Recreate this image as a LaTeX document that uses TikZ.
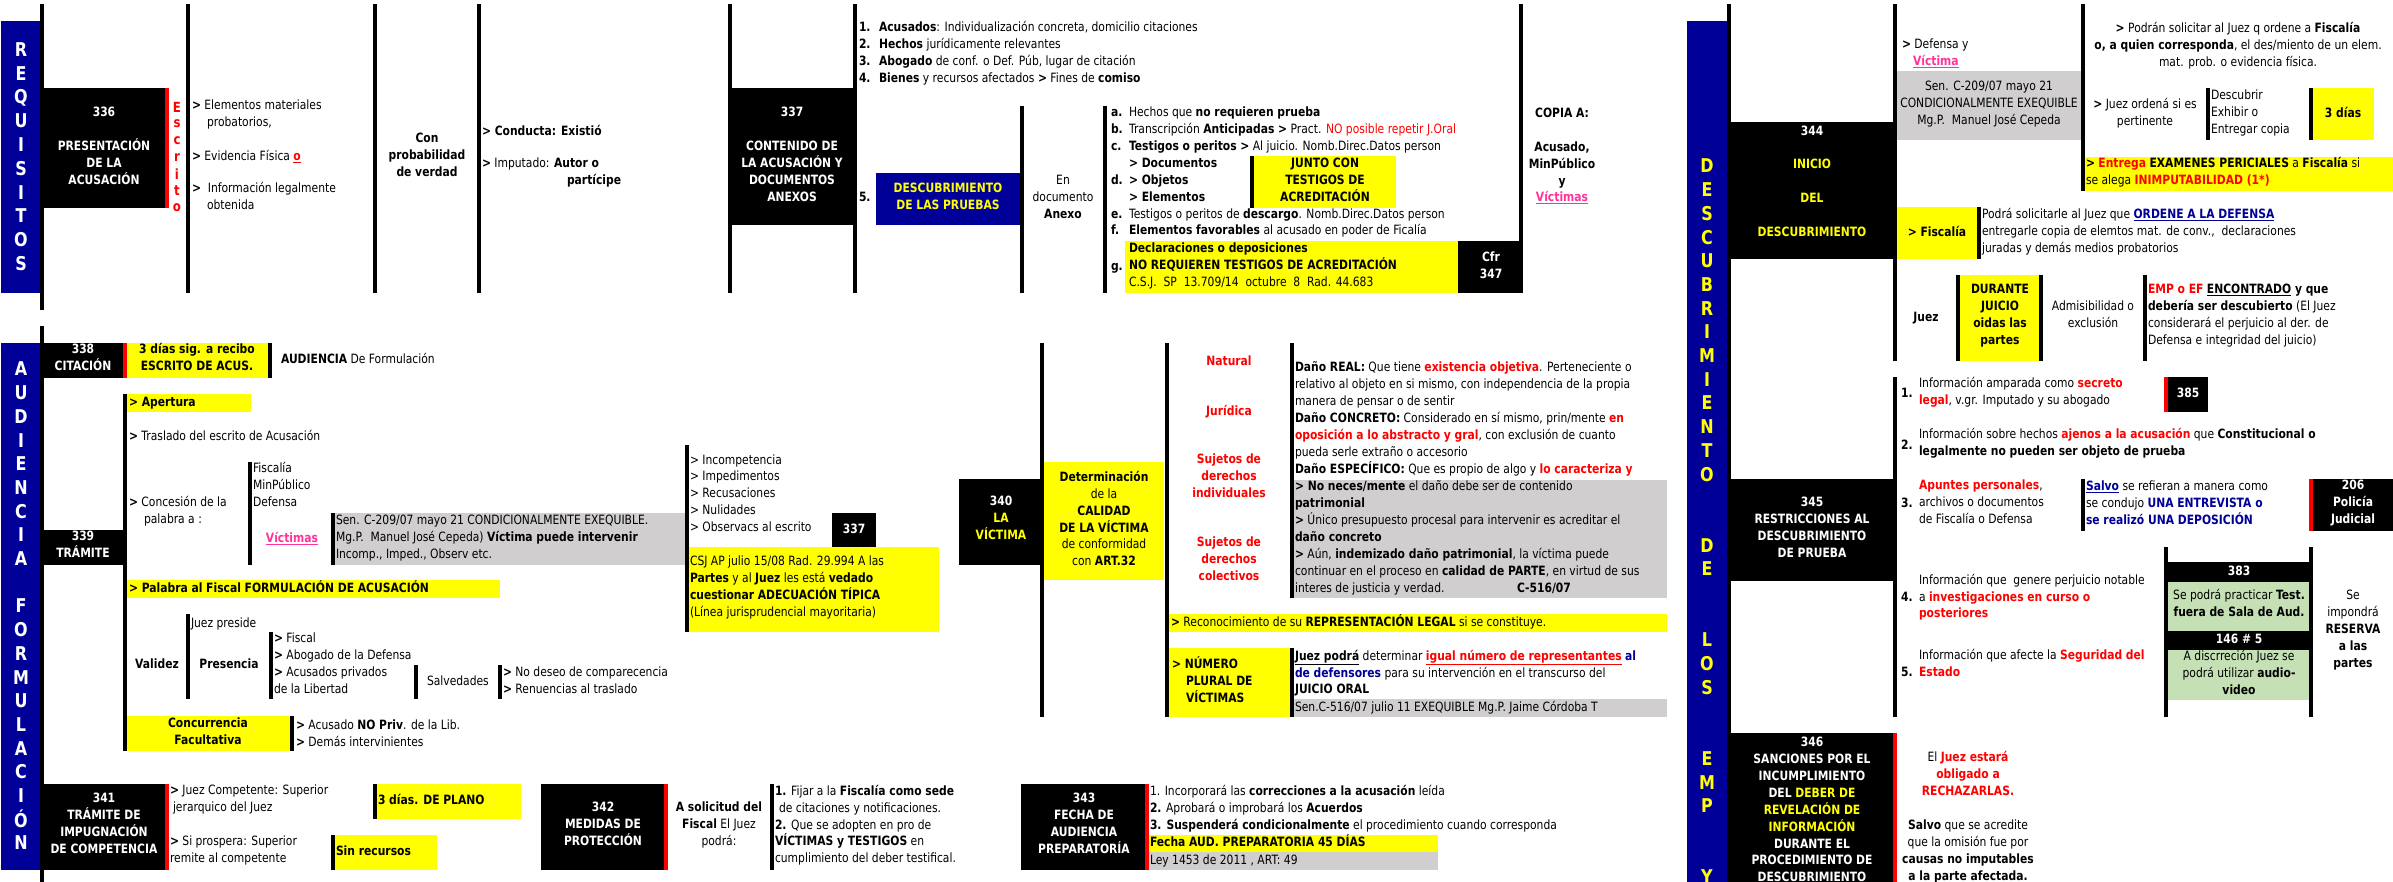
\documentclass[tikz,border=0pt]{standalone}
\usepackage{fontspec}
\setmainfont{DejaVu Sans}[FakeStretch=0.84]
\usepackage{tikz}
\definecolor{azul}{HTML}{000099}
\definecolor{amar}{HTML}{FFFF00}
\definecolor{gris}{HTML}{D0CECE}
\definecolor{verde}{HTML}{C5E0B4}
\definecolor{rojo}{HTML}{FF0000}
\definecolor{rosa}{HTML}{FF3399}
\newcommand{\tam}{\fontsize{12.8}{16.9}\selectfont}
\newcommand{\sig}{\textbf{>}}
\newcommand{\rojob}[1]{\textcolor{rojo}{\textbf{#1}}}
\newcommand{\rojou}[1]{\textcolor{rojo}{\textbf{\underline{#1}}}}
\newcommand{\azb}[1]{\textcolor{azul}{\textbf{#1}}}
\newcommand{\azu}[1]{\textcolor{azul}{\textbf{\underline{#1}}}}
\newcommand{\vict}[1]{\textcolor{rosa}{\textbf{\underline{#1}}}}
\newcommand{\nm}[2][20pt]{\makebox[#1][l]{\textbf{#2}}}

\begin{document}
\begin{tikzpicture}[x=1pt,y=-1pt,
   every node/.style={inner sep=0pt,outer sep=0pt},
   tx/.style={anchor=west,align=left,font=\tam,execute at begin node=\strut,execute at end node=\strut},
   txb/.style={tx,font=\tam\bfseries},
   ct/.style={tx,anchor=center,align=center},
   ctb/.style={ct,font=\tam\bfseries},
   wb/.style={ctb,text=white},
   rj/.style={ctb,text=rojo},
   letra/.style={font=\fontsize{19}{19}\selectfont\bfseries,text=white},
   letray/.style={letra,text=amar},
   esc/.style={font=\fontsize{14}{14}\selectfont\bfseries,text=rojo}]
   \fill[white] (0,0) rectangle (2393,882);
   \useasboundingbox (0,0) rectangle (2393,882);

   % REQUISITOS
   \fill[azul] (1,21) rectangle (40,293);
   \fill (40,4) rectangle (44,310);
   \fill (44,88) rectangle (165,208);
   \fill[rojo] (165,88) rectangle (169,208);
   \fill (186,4) rectangle (190,293);
   \fill (373,4) rectangle (377,293);
   \fill (477,4) rectangle (481,293);
   \fill (728,4) rectangle (732,293);
   \fill (732,88) rectangle (853,225);
   \fill (853,4) rectangle (857,293);
   \fill[azul] (876,173) rectangle (1020,225);
   \fill (1020,106) rectangle (1024,293);
   \fill (1103,106) rectangle (1107,293);
   \fill (1250,156) rectangle (1254,208);
   \fill[amar] (1254,156) rectangle (1396,208);
   \fill[amar] (1125,241) rectangle (1458,293);
   \fill (1458,241) rectangle (1523,293);
   \fill (1519,4) rectangle (1523,241);

   \foreach \ch [count=\i from 0] in {R,E,Q,U,I,S,I,T,O,S}
      \node[letra] (req\i) at (21,50+23.7*\i) {\ch};
   \foreach \ch [count=\i from 0] in {E,s,c,r,i,t,o}
      \node[esc] (esc\i) at (177,107+16.7*\i) {\ch};
   \node[wb] (t336) at (104,148) {336\\[16.9pt]PRESENTACIÓN\\DE LA\\ACUSACIÓN};
   \node[tx] (emp) at (192,115.5) {\sig{} Elementos materiales\\\hspace*{15pt}probatorios,};
   \node[tx] (evf) at (192,157) {\sig{} Evidencia Física \rojou{o}};
   \node[tx] (info) at (192,198.5) {\sig{}\ \ Información legalmente\\\hspace*{15pt}obtenida};
   \node[ctb] (conp) at (427,157) {Con\\probabilidad\\de verdad};
   \node[txb] (cond) at (482,132) {> Conducta: Existió};
   \node[tx] (imput) at (482,173.5) {\sig{} Imputado: \textbf{Autor o}\\\hspace*{85pt}\textbf{partícipe}};
   \node[wb] (t337) at (792,157) {337\\[16.9pt]CONTENIDO DE\\LA ACUSACIÓN Y\\DOCUMENTOS\\ANEXOS};
   \node[tx] (cont) at (859,54.5) {\nm{1.}\textbf{Acusados}: Individualización concreta, domicilio citaciones\\
      \nm{2.}\textbf{Hechos} jurídicamente relevantes\\
      \nm{3.}\textbf{Abogado} de conf. o Def. Púb, lugar de citación\\
      \nm{4.}\textbf{Bienes} y recursos afectados \sig{} Fines de \textbf{comiso}};
   \node[txb] (n5) at (859,198) {5.};
   \node[ctb,text=amar] (desc) at (948,199) {DESCUBRIMIENTO\\DE LAS PRUEBAS};
   \node[ct] (anexo) at (1063,199) {En\\documento\\\textbf{Anexo}};
   \node[tx] (lista) at (1111,173.5) {\nm[18pt]{a.}Hechos que \textbf{no requieren prueba}\\
      \nm[18pt]{b.}Transcripción \textbf{Anticipadas >} Pract. \textcolor{rojo}{NO posible repetir J.Oral}\\
      \nm[18pt]{c.}\textbf{Testigos o peritos >} Al juicio. Nomb.Direc.Datos person\\
      \nm[18pt]{}\textbf{> Documentos}\\
      \nm[18pt]{d.}\textbf{> Objetos}\\
      \nm[18pt]{}\textbf{> Elementos}\\
      \nm[18pt]{e.}Testigos o peritos de \textbf{descargo}. Nomb.Direc.Datos person\\
      \nm[18pt]{f.}\textbf{Elementos favorables} al acusado en poder de Ficalía};
   \node[ctb] (junto) at (1325,182) {JUNTO CON\\TESTIGOS DE\\ACREDITACIÓN};
   \node[txb] (ng) at (1111,267) {g.};
   \node[tx] (decl) at (1129,267) {\textbf{Declaraciones o deposiciones}\\\textbf{NO REQUIEREN TESTIGOS DE ACREDITACIÓN}\\C.S.J.\ \ SP\ \ 13.709/14\ \ octubre\ \ 8\ \ Rad. 44.683};
   \node[wb] (cfr) at (1491,267.5) {Cfr\\347};
   \node[ctb] (copia) at (1562,157.5) {COPIA A:\\[16.9pt]Acusado,\\MinPúblico\\y\\\vict{Víctimas}};

   % AUDIENCIA DE FORMULACION
   \fill[azul] (1,343) rectangle (40,870);
   \fill (40,326) rectangle (44,882);
   \fill (44,343) rectangle (123,378);
   \fill[rojo] (123,343) rectangle (127,378);
   \fill[amar] (127,343) rectangle (268,378);
   \fill (268,343) rectangle (272,378);
   \fill (123,394) rectangle (127,751);
   \fill[amar] (127,394) rectangle (251,412);
   \fill (44,530) rectangle (123,565);
   \fill (248,462) rectangle (252,565);
   \fill (331,513) rectangle (335,565);
   \fill[gris] (335,513) rectangle (685,565);
   \fill (685,445) rectangle (689,632);
   \fill (832,513) rectangle (876,547);
   \fill[amar] (689,547) rectangle (939,632);
   \fill[amar] (127,580) rectangle (500,598);
   \fill (186,614) rectangle (190,699);
   \fill (269,632) rectangle (273,699);
   \fill (414,665) rectangle (418,699);
   \fill (498,665) rectangle (502,699);
   \fill[amar] (127,716) rectangle (290,751);
   \fill (290,716) rectangle (294,751);
   \fill (44,784) rectangle (165,870);
   \fill[rojo] (165,784) rectangle (169,870);
   \fill (373,784) rectangle (377,819);
   \fill[amar] (377,784) rectangle (521,819);
   \fill (331,835) rectangle (335,870);
   \fill[amar] (335,835) rectangle (437,870);
   \fill (541,784) rectangle (664,870);
   \fill[rojo] (664,784) rectangle (668,870);
   \fill (770,784) rectangle (774,870);
   \fill (1021,784) rectangle (1145,870);
   \fill[rojo] (1145,784) rectangle (1149,870);
   \fill[amar] (1149,835) rectangle (1438,852);
   \fill[gris] (1149,852) rectangle (1438,870);

   \foreach \i/\ch in {0/A,1/U,2/D,3/I,4/E,5/N,6/C,7/I,8/A,10/F,11/O,12/R,13/M,14/U,15/L,16/A,17/C,18/I,19/Ó,20/N}
      \node[letra] (aud\i) at (21,369+23.7*\i) {\ch};
   \node[wb] (t338) at (83,359.5) {338\\CITACIÓN};
   \node[ctb] (tresd) at (197,359.5) {3 días sig. a recibo\\ESCRITO DE ACUS.};
   \node[tx] (audf) at (281,360) {\textbf{AUDIENCIA} De Formulación};
   \node[txb] (aper) at (129,403) {> Apertura};
   \node[tx] (tras) at (129,437) {\sig{} Traslado del escrito de Acusación};
   \node[wb] (t339) at (83,547) {339\\TRÁMITE};
   \node[tx] (conc) at (129,512.5) {\sig{} Concesión de la\\\hspace*{15pt}palabra a :};
   \node[tx] (fmd) at (253,487) {Fiscalía\\MinPúblico\\Defensa};
   \node[ct] (vic1) at (292,539) {\vict{Víctimas}};
   \node[tx] (sen1) at (336,539) {Sen. C-209/07 mayo 21 CONDICIONALMENTE EXEQUIBLE.\\Mg.P.\ \ Manuel José Cepeda) \textbf{Víctima puede intervenir}\\Incomp., Imped., Observ etc.};
   \node[tx] (incomp) at (690,495.5) {> Incompetencia\\> Impedimentos\\> Recusaciones\\> Nulidades\\> Observacs al escrito};
   \node[wb] (c337) at (854,530) {337};
   \node[tx] (csj) at (690,589) {CSJ AP julio 15/08 Rad. 29.994 A las\\\textbf{Partes} y al \textbf{Juez} les está \textbf{vedado}\\\textbf{cuestionar ADECUACIÓN TÍPICA}\\(Línea jurisprudencial mayoritaria)};
   \node[txb] (palf) at (129,589) {> Palabra al Fiscal FORMULACIÓN DE ACUSACIÓN};
   \node[ctb] (valid) at (157,665) {Validez};
   \node[tx] (juez) at (191,624) {Juez preside};
   \node[ctb] (pres) at (229,665) {Presencia};
   \node[tx] (fisc) at (274,666) {\sig{} Fiscal\\\sig{} Abogado de la Defensa\\\sig{} Acusados privados\\de la Libertad};
   \node[tx] (salv) at (427,682) {Salvedades};
   \node[tx] (nodes) at (503,682.5) {\sig{} No deseo de comparecencia\\\sig{} Renuencias al traslado};
   \node[ctb] (concu) at (208,734) {Concurrencia\\Facultativa};
   \node[tx] (acus) at (296,735.5) {\sig{} Acusado \textbf{NO Priv}. de la Lib.\\\sig{} Demás intervinientes};
   \node[wb] (t341) at (104,826) {341\\TRÁMITE DE\\IMPUGNACIÓN\\DE COMPETENCIA};
   \node[tx] (juezc) at (170,800.5) {\sig{} Juez Competente: Superior\\\hspace*{3pt}jerarquico del Juez};
   \node[tx] (sipro) at (170,851.5) {\sig{} Si prospera: Superior\\remite al competente};
   \node[txb] (plano) at (378,801) {3 días. DE PLANO};
   \node[txb] (sinr) at (336,852) {Sin recursos};
   \node[wb] (t342) at (603,826) {342\\MEDIDAS DE\\PROTECCIÓN};
   \node[ct] (asol) at (719,826) {\textbf{A solicitud del}\\\textbf{Fiscal} El Juez\\podrá:};
   \node[tx] (fijar) at (775,826.5) {\textbf{1.} Fijar a la \textbf{Fiscalía como sede}\\\hspace*{4pt}de citaciones y notificaciones.\\\textbf{2.} Que se adopten en pro de\\\textbf{VÍCTIMAS y TESTIGOS} en\\cumplimiento del deber testifical.};
   \node[wb] (t343) at (1084,826) {343\\FECHA DE\\AUDIENCIA\\PREPARATORÍA};
   \node[tx] (incorp) at (1150,810) {1. Incorporará las \textbf{correcciones a la acusación} leída\\\textbf{2.} Aprobará o improbará los \textbf{Acuerdos}\\\textbf{3. Suspenderá condicionalmente} el procedimiento cuando corresponda};
   \node[txb] (fecha) at (1150,843.5) {Fecha AUD. PREPARATORIA 45 DÍAS};
   \node[tx] (ley) at (1150,861) {Ley 1453 de 2011 , ART: 49};

   % LA VICTIMA
   \fill (959,479) rectangle (1040,565);
   \fill (1040,343) rectangle (1044,717);
   \fill[amar] (1044,462) rectangle (1164,580);
   \fill (1165,343) rectangle (1169,717);
   \fill (1290,343) rectangle (1294,598);
   \fill[gris] (1294,480) rectangle (1667,598);
   \fill[amar] (1169,614) rectangle (1667,632);
   \fill[amar] (1169,648) rectangle (1290,717);
   \fill (1290,648) rectangle (1294,717);
   \fill[gris] (1294,699) rectangle (1667,717);

   \node[wb] (t340) at (1001,520.5) {340\\\textcolor{amar}{LA}\\\textcolor{amar}{VÍCTIMA}};
   \node[ct] (deter) at (1104,521) {\textbf{Determinación}\\de la\\\textbf{CALIDAD}\\\textbf{DE LA VÍCTIMA}\\de conformidad\\con \textbf{ART.32}};
   \node[rj] (natu) at (1229,362) {Natural};
   \node[rj] (juri) at (1229,412) {Jurídica};
   \node[rj] (sind) at (1229,478) {Sujetos de\\derechos\\individuales};
   \node[rj] (scol) at (1229,561.5) {Sujetos de\\derechos\\colectivos};
   \node[tx] (dano) at (1295,420) {\textbf{Daño REAL:} Que tiene \rojob{existencia objetiva}. Perteneciente o\\
      relativo al objeto en si mismo, con independencia de la propia\\
      manera de pensar o de sentir\\
      \textbf{Daño CONCRETO:} Considerado en sí mismo, prin/mente \rojob{en}\\
      \rojob{oposición a lo abstracto y gral}, con exclusión de cuanto\\
      pueda serle extraño o accesorio\\
      \textbf{Daño ESPECÍFICO:} Que es propio de algo y \rojob{lo caracteriza y}};
   \node[tx] (nonec) at (1295,539) {\textbf{> No neces/mente} el daño debe ser de contenido\\
      \textbf{patrimonial}\\
      \sig{} Único presupuesto procesal para intervenir es acreditar el\\
      \textbf{daño concreto}\\
      \sig{} Aún, \textbf{indemizado daño patrimonial}, la víctima puede\\
      continuar en el proceso en \textbf{calidad de PARTE}, en virtud de sus\\
      interes de justicia y verdad.};
   \node[txb] (c516) at (1517,589) {C-516/07};
   \node[tx] (recon) at (1171,623) {\sig{} Reconocimiento de su \textbf{REPRESENTACIÓN LEGAL} si se constituye.};
   \node[txb] (plural) at (1172,682) {> NÚMERO\\\hspace*{14pt}PLURAL DE\\\hspace*{14pt}VÍCTIMAS};
   \node[tx] (juezp) at (1295,674.5) {\textbf{\underline{Juez podrá}} determinar \rojou{igual número de representantes} \azb{al}\\\azb{de defensores} para su intervención en el transcurso del\\\textbf{JUICIO ORAL}};
   \node[tx] (sen516) at (1295,708) {Sen.C-516/07 julio 11 EXEQUIBLE Mg.P. Jaime Córdoba T};

   % DESCUBRIMIENTO
   \fill[azul] (1687,21) rectangle (1727,882);
   \fill (1727,4) rectangle (1731,882);
   \fill (1731,122) rectangle (1897,259);
   \fill (1893,4) rectangle (1897,361);
   \fill[gris] (1897,71) rectangle (2082,140);
   \fill (2081,4) rectangle (2085,191);
   \fill (2206,88) rectangle (2210,140);
   \fill (2309,88) rectangle (2313,140);
   \fill[amar] (2313,88) rectangle (2374,140);
   \fill[amar] (2085,157) rectangle (2393,191);
   \fill[amar] (1897,207) rectangle (1977,259);
   \fill (1977,207) rectangle (1981,259);
   \fill (1956,275) rectangle (1960,361);
   \fill[amar] (1960,275) rectangle (2039,361);
   \fill (2039,275) rectangle (2043,361);
   \fill (2143,275) rectangle (2147,361);
   \fill (1893,377) rectangle (1897,717);
   \fill[rojo] (2164,377) rectangle (2168,412);
   \fill (2168,377) rectangle (2208,412);
   \fill (1731,479) rectangle (1897,581);
   \fill (2081,479) rectangle (2085,531);
   \fill[rojo] (2309,479) rectangle (2313,531);
   \fill (2313,479) rectangle (2393,531);
   \fill (2164,547) rectangle (2168,717);
   \fill (2309,547) rectangle (2313,717);
   \fill (2168,562) rectangle (2309,582);
   \fill[verde] (2168,582) rectangle (2309,631);
   \fill (2168,631) rectangle (2309,650);
   \fill[verde] (2168,650) rectangle (2309,700);
   \fill (1731,733) rectangle (1893,882);
   \fill[rojo] (1893,733) rectangle (1897,882);

   \foreach \i/\ch in {0/D,1/E,2/S,3/C,4/U,5/B,6/R,7/I,8/M,9/I,10/E,11/N,12/T,13/O,16/D,17/E,20/L,21/O,22/S,25/E,26/M,27/P,30/Y}
      \node[letray] (des\i) at (1707,166+23.7*\i) {\ch};
   \node[wb] (t344) at (1812,183.5) {344\\[16.9pt]\textcolor{amar}{INICIO}\\[16.9pt]\textcolor{amar}{DEL}\\[16.9pt]\textcolor{amar}{DESCUBRIMIENTO}};
   \node[tx] (defv) at (1902,55) {\sig{} Defensa y\\\hspace*{11pt}\vict{Víctima}};
   \node[ct] (sen2) at (1989,105.5) {Sen. C-209/07 mayo 21\\CONDICIONALMENTE EXEQUIBLE\\Mg.P.\ \ Manuel José Cepeda};
   \node[ct] (podran) at (2238,47) {\sig{} Podrán solicitar al Juez q ordene a \textbf{Fiscalía}\\\textbf{o, a quien corresponda}, el des/miento de un elem.\\mat. prob. o evidencia física.};
   \node[ct] (jord) at (2145,114.5) {\sig{} Juez ordená si es\\pertinente};
   \node[tx] (desc2) at (2211,114) {Descubrir\\Exhibir o\\Entregar copia};
   \node[ctb] (tres) at (2343,114) {3 días};
   \node[tx] (entrega) at (2086,173.5) {\sig{} \rojob{Entrega} \textbf{EXAMENES PERICIALES} a \textbf{Fiscalía} si\\se alega \rojob{INIMPUTABILIDAD (1*)}};
   \node[ctb] (fisca) at (1937,233) {> Fiscalía};
   \node[tx] (podra) at (1982,233) {Podrá solicitarle al Juez que \azu{ORDENE A LA DEFENSA}\\entregarle copia de elemtos mat. de conv.,\ \ declaraciones\\juradas y demás medios probatorios};
   \node[ctb] (juez2) at (1926,318) {Juez};
   \node[ctb] (durante) at (2000,317) {DURANTE\\JUICIO\\oidas las\\partes};
   \node[ct] (admis) at (2093,317) {Admisibilidad o\\exclusión};
   \node[tx] (empef) at (2148,317) {\rojob{EMP o EF} \textbf{\underline{ENCONTRADO} y que}\\\textbf{debería ser descubierto} (El Juez\\considerará el perjuicio al der. de\\Defensa e integridad del juicio)};
   \node[txb] (r1) at (1901,394) {1.};
   \node[tx] (i1) at (1919,393.5) {Información amparada como \rojob{secreto}\\\rojob{legal}, v.gr. Imputado y su abogado};
   \node[wb] (c385) at (2188,394.5) {385};
   \node[txb] (r2) at (1901,446) {2.};
   \node[tx] (i2) at (1919,444.5) {Información sobre hechos \rojob{ajenos a la acusación} que \textbf{Constitucional o}\\\textbf{legalmente no pueden ser objeto de prueba}};
   \node[wb] (t345) at (1812,529.5) {345\\RESTRICCIONES AL\\DESCUBRIMIENTO\\DE PRUEBA};
   \node[txb] (r3) at (1901,504) {3.};
   \node[tx] (i3) at (1919,504) {\rojob{Apuntes personales},\\archivos o documentos\\de Fiscalía o Defensa};
   \node[tx] (salvo) at (2086,505.5) {\azu{Salvo} se refieran a manera como\\se condujo \azb{UNA ENTREVISTA o}\\\azb{se realizó UNA DEPOSICIÓN}};
   \node[wb] (c206) at (2353,504) {206\\Policía\\Judicial};
   \node[txb] (r4) at (1901,598) {4.};
   \node[tx] (i4) at (1919,598.5) {Información que\ \ genere perjuicio notable\\a \rojob{investigaciones en curso o}\\\rojob{posteriores}};
   \node[txb] (r5) at (1901,673) {5.};
   \node[tx] (i5) at (1919,665) {Información que afecte la \rojob{Seguridad del}\\\rojob{Estado}};
   \node[wb] (c383) at (2239,572) {383};
   \node[ct] (testf) at (2239,605.5) {Se podrá practicar \textbf{Test.}\\\textbf{fuera de Sala de Aud.}};
   \node[wb] (c146) at (2239,640.5) {146 \# 5};
   \node[ct] (discr) at (2239,675) {A discrreción Juez se\\podrá utilizar \textbf{audio-}\\\textbf{video}};
   \node[ct] (reserva) at (2353,631.5) {Se\\impondrá\\\textbf{RESERVA}\\\textbf{a las}\\\textbf{partes}};
   \node[wb] (t346) at (1812,812) {346\\SANCIONES POR EL\\INCUMPLIMIENTO\\DEL \textcolor{amar}{DEBER DE}\\\textcolor{amar}{REVELACIÓN DE}\\\textcolor{amar}{INFORMACIÓN}\\DURANTE EL\\PROCEDIMIENTO DE\\DESCUBRIMIENTO};
   \node[ct] (rech) at (1968,818.5) {El \rojob{Juez estará}\\\rojob{obligado a}\\\rojob{RECHAZARLAS.}\\[16.9pt]\textbf{Salvo} que se acredite\\que la omisión fue por\\\textbf{causas no imputables}\\\textbf{a la parte afectada.}};
\end{tikzpicture}
\end{document}
